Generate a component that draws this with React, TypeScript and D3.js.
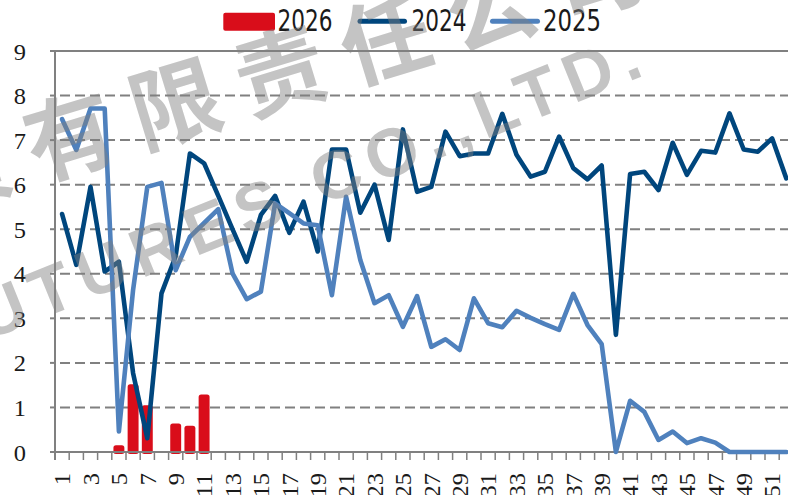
import React from "react";
import * as d3 from "d3";

const weeks: number[] = d3.range(1, 53);
const series2024: number[] = [
  5.34, 4.2, 5.95, 4.05, 4.27, 1.77, 0.31, 3.56, 4.4, 6.7,
  6.48, 5.75, 5.0, 4.27, 5.32, 5.75, 4.92, 5.62, 4.5, 6.79,
  6.79, 5.37, 6.0, 4.76, 7.24, 5.84, 5.95, 7.19, 6.64, 6.7,
  6.7, 7.59, 6.67, 6.18, 6.29, 7.08, 6.37, 6.12, 6.43, 2.63,
  6.24, 6.29, 5.88, 6.94, 6.22, 6.76, 6.72, 7.6, 6.79, 6.74,
  7.04, 6.14,
];
const series2025: number[] = [
  7.47, 6.78, 7.71, 7.71, 0.46, 3.64, 5.95, 6.04, 4.08, 4.83,
  5.14, 5.45, 4.01, 3.43, 3.6, 5.58, 5.36, 5.13, 5.09, 3.52,
  5.73, 4.31, 3.34, 3.52, 2.81, 3.5, 2.36, 2.53, 2.29, 3.45,
  2.89, 2.8, 3.17, 3.01, 2.87, 2.74, 3.55, 2.85, 2.42, 0,
  1.15, 0.9, 0.27, 0.46, 0.2, 0.31, 0.21, 0, 0, 0,
  0, 0,
];
const weeks2026: number[] = [5, 6, 7, 9, 10, 11];
const series2026: number[] = [0.15, 1.52, 1.05, 0.64, 0.59, 1.29];
const yTicks: number[] = d3.range(0, 10);
const xTickLabels: number[] = weeks.filter((w) => w % 2 === 1);

const COLOR_2026 = "#d90d1a";
const COLOR_2024 = "#00467d";
const COLOR_2025 = "#4f81bd";
const GRID = "#808080";

export default function App() {
  const left = 55;
  const step = 14.2;
  const x = d3
    .scaleBand<number>()
    .domain(weeks)
    .range([left, left + weeks.length * step])
    .paddingInner(0)
    .paddingOuter(0);
  const xBar = d3
    .scaleBand<number>()
    .domain(weeks)
    .range([left, left + weeks.length * step])
    .paddingInner(0.23)
    .paddingOuter(0.115);
  const y = d3.scaleLinear().domain([0, 9]).range([452, 51]);
  const cx = (w: number) => (x(w) as number) + x.bandwidth() / 2;
  const right = left + weeks.length * step;

  const line = d3
    .line<number>()
    .x((_, i) => cx(weeks[i]))
    .y((v) => y(v));

  const axisFont = "Liberation Serif, DejaVu Serif, Times New Roman, serif";
  const legendFont = "Liberation Sans Narrow, Arial Narrow, DejaVu Sans Condensed, sans-serif";
  const digitW = 12.2;

  return (
    <svg
      width={788}
      height={495}
      style={{ position: "absolute", left: 0, top: 0, background: "#fff", overflow: "hidden" }}
    >
      {/* gridlines */}
      {yTicks.map((t) => (
        <g key={t}>
          <line x1={50} x2={left} y1={y(t)} y2={y(t)} stroke={GRID} strokeWidth={2} />
          {t > 0 && t < 9 && (
            <line
              x1={left}
              x2={right}
              y1={y(t)}
              y2={y(t)}
              stroke={GRID}
              strokeWidth={2}
              strokeDasharray="10,5"
              strokeDashoffset={10}
            />
          )}
          {t === 9 && (
            <line x1={left} x2={right} y1={y(t)} y2={y(t)} stroke={GRID} strokeWidth={2} />
          )}
          <text
            x={26}
            y={y(t) + 8.5}
            textAnchor="end"
            style={{ fontFamily: axisFont }}
            fontSize={24}
            textLength={String(t).length * digitW}
            lengthAdjust="spacingAndGlyphs"
            fill="#1a1a1a"
          >
            {t}
          </text>
        </g>
      ))}

      {/* 2026 bars */}
      {weeks2026.map((w, i) => (
        <rect
          key={w}
          x={xBar(w)}
          width={xBar.bandwidth()}
          y={y(series2026[i])}
          height={y(0) - y(series2026[i]) + 2}
          rx={2.5}
          fill={COLOR_2026}
        />
      ))}

      {/* axes */}
      <line x1={left} x2={left} y1={y(9)} y2={y(0) + 8} stroke={GRID} strokeWidth={2} />
      <line x1={50} x2={right} y1={y(0)} y2={y(0)} stroke={GRID} strokeWidth={2} />
      {d3.range(0, weeks.length + 1).map((i) => (
        <line
          key={i}
          x1={left + i * step}
          x2={left + i * step}
          y1={y(0)}
          y2={y(0) + 8}
          stroke={GRID}
          strokeWidth={1.5}
        />
      ))}
      {xTickLabels.map((w) => (
        <text
          key={w}
          transform={`translate(${cx(w) + 8.2},473) rotate(-90)`}
          textAnchor="end"
          style={{ fontFamily: axisFont }}
          fontSize={23}
          textLength={String(w).length * digitW}
          lengthAdjust="spacingAndGlyphs"
          fill="#1a1a1a"
        >
          {w}
        </text>
      ))}

      {/* lines */}
      <path
        d={line(series2024) || ""}
        fill="none"
        stroke={COLOR_2024}
        strokeWidth={4.6}
        strokeLinejoin="round"
        strokeLinecap="round"
      />
      <path
        d={line(series2025) || ""}
        fill="none"
        stroke={COLOR_2025}
        strokeWidth={4.6}
        strokeLinejoin="round"
        strokeLinecap="round"
      />

      {/* legend */}
      <rect x={223.3} y={12.7} width={51.7} height={18} rx={2} fill={COLOR_2026} />
      <text x={277.5} y={30.7} style={{ fontFamily: legendFont }} fontSize={30} textLength={55} lengthAdjust="spacingAndGlyphs" fill="#1a1a1a">
        2026
      </text>
      <line x1={360} x2={404.5} y1={21.3} y2={21.3} stroke={COLOR_2024} strokeWidth={5} strokeLinecap="round" />
      <text x={411.5} y={30.7} style={{ fontFamily: legendFont }} fontSize={30} textLength={55} lengthAdjust="spacingAndGlyphs" fill="#1a1a1a">
        2024
      </text>
      <line x1={492.5} x2={537.5} y1={21.3} y2={21.3} stroke={COLOR_2025} strokeWidth={5} strokeLinecap="round" />
      <text x={543} y={30.7} style={{ fontFamily: legendFont }} fontSize={30} textLength={58} lengthAdjust="spacingAndGlyphs" fill="#1a1a1a">
        2025
      </text>

      {/* watermark */}
      <g opacity={0.46} fill="#808080" style={{ pointerEvents: "none" }}>
        <text
          transform="translate(-185,208) rotate(-17)"
          style={{ fontFamily: "Noto Sans CJK SC, sans-serif" }}
          fontWeight={700}
          fontSize={90}
          letterSpacing={20}
          dominantBaseline="central"
        >
          期货有限责任公司
        </text>
        <text
          transform="translate(-60,360) rotate(-22)"
          style={{ fontFamily: "Liberation Sans, Arial, sans-serif" }}
          fontWeight={700}
          fontSize={68}
          letterSpacing={9}
        >
          FUTURES CO.,LTD.
        </text>
      </g>
    </svg>
  );
}
